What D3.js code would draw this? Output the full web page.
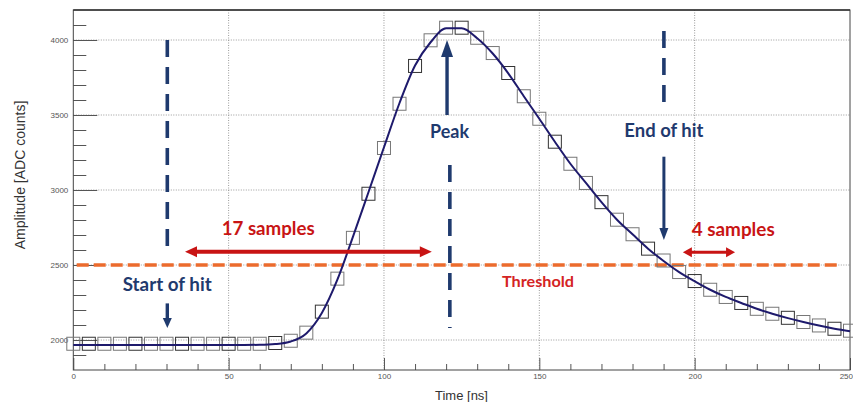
<!DOCTYPE html>
<html><head><meta charset="utf-8">
<script src="https://cdn.jsdelivr.net/npm/d3@7"></script>
<style>body{margin:0;background:#fff}svg{display:block}</style>
</head><body>
<svg id="c" width="853" height="402"></svg>
<script>
// ---- data ----
const times = [0,5,10,15,20,25,30,35,40,45,50,55,60,65,70,75,80,85,90,95,100,105,110,115,120,125,130,135,140,145,150,155,160,165,170,175,180,185,190,195,200,205,210,215,220,225,230,235,240,245,250];
const samples = [1975,1975,1975,1975,1975,1975,1975,1975,1975,1975,1975,1975,1975,1980,1995,2049,2189,2409,2681,2975,3280,3575,3827,3998,4082,4082,4015,3913,3780,3625,3475,3322,3175,3047,2919,2802,2705,2609,2530,2453,2393,2335,2287,2247,2208,2175,2148,2120,2097,2075,2062];
const fit = [1967,1967,1967,1967,1967,1967,1967,1967,1967,1967,1967,1967,1968,1973,1990,2044,2180,2402,2688,2985,3285,3580,3830,3985,4078,4078,4012,3910,3778,3625,3475,3322,3175,3047,2919,2802,2705,2609,2527,2453,2392,2335,2287,2247,2208,2175,2146,2120,2096,2075,2058];
const xMajor = [0,50,100,150,200,250];
const xMinor = [10,20,30,40,60,70,80,90,110,120,130,140,160,170,180,190,210,220,230,240];
const yMajor = [2000,2500,3000,3500,4000];
const yMinor = [1900,2100,2200,2300,2400,2600,2700,2800,2900,3100,3200,3300,3400,3600,3700,3800,3900,4100];
const threshold = 2500;
const xTitle = "Time [ns]";
const yTitle = "Amplitude [ADC counts]";

// annotations in data units
const startHit = {t:30.26, dash:[4000,2607], arrow:[2244,2080]};
const peakHit  = {t:121.2, dash:[3167,2080], arrow:[3500,4000]};
const endHit   = {t:190.1, dash:[4060,3547], arrow:[3222,2667]};
const span17 = {t:[35.95,115.4], v:2589};
const span4  = {t:[196.2,213.0], v:2585};

// ---- layout ----
const svg = d3.select("#c");
const L=73.3, R=850, T=10, B=370;
const x = d3.scaleLinear().domain([0,250]).range([L,R]);
const y = d3.scaleLinear().domain([1800,4200]).range([B,T]);

const navy="#1f3a6e", red="#c81414", orange="#ec6b2d", curveCol="#1e1a6c";

// grid
const grid = svg.append("g").attr("stroke","#9a9a9a").attr("stroke-width",1).attr("stroke-dasharray","1,1.5");
grid.selectAll(".gx").data(xMajor.filter(d=>d>0&&d<250)).join("line")
  .attr("x1",d=>x(d)).attr("x2",d=>x(d)).attr("y1",T).attr("y2",B);
grid.selectAll(".gy").data(yMajor).join("line")
  .attr("x1",L).attr("x2",R).attr("y1",d=>y(d)).attr("y2",d=>y(d));

// axes
const fontTick = "'Liberation Sans', Arial, sans-serif";
const yAx = svg.append("g").attr("transform",`translate(${L},0)`)
  .call(d3.axisLeft(y).tickValues(yMajor).tickSizeInner(-24).tickSizeOuter(0).tickPadding(5).tickFormat(d3.format("d")));
const yAxm = svg.append("g").attr("transform",`translate(${L},0)`)
  .call(d3.axisLeft(y).tickValues(yMinor).tickSizeInner(-13).tickSizeOuter(0).tickFormat(""));
const xAx = svg.append("g").attr("transform",`translate(0,${B})`)
  .call(d3.axisBottom(x).tickValues(xMajor).tickSizeInner(-12).tickSizeOuter(0).tickPadding(3).tickFormat(d3.format("d")));
const xAxm = svg.append("g").attr("transform",`translate(0,${B})`)
  .call(d3.axisBottom(x).tickValues(xMinor).tickSizeInner(-6).tickSizeOuter(0).tickFormat(""));
[yAx,yAxm,xAx,xAxm].forEach(g=>{
  g.select(".domain").remove();
  g.selectAll(".tick line").attr("stroke","#555");
  g.selectAll("text").attr("fill","#555").style("font-family",fontTick).style("font-size","8px");
});
// last x label sits at the window edge: keep it fully visible
xAx.selectAll(".tick text").filter(d=>d===250).attr("text-anchor","end").attr("x",2.5);

// frame
svg.append("rect").attr("x",L).attr("y",T).attr("width",R-L).attr("height",B-T)
  .attr("fill","none").attr("stroke","#444").attr("stroke-width",1);
svg.append("line").attr("x1",L).attr("x2",R).attr("y1",T).attr("y2",T).attr("stroke","#333").attr("stroke-width",1.5);

// threshold
svg.append("line").attr("x1",x(1.1)).attr("x2",x(246.3)).attr("y1",y(threshold)).attr("y2",y(threshold))
  .attr("stroke",orange).attr("stroke-width",3.5).attr("stroke-dasharray","12,5");

// markers
const pts = times.map((t,i)=>({t,v:samples[i]}));
svg.append("g").selectAll("rect").data(pts).join("rect")
  .attr("x",d=>x(d.t)-6.5).attr("y",d=>y(d.v)-6.5).attr("width",13).attr("height",13)
  .attr("fill","none").attr("stroke",(d,i)=>i%3===1?"#333":"#777").attr("stroke-width",1);

// fit curve
const fitPts = times.map((t,i)=>({t,v:fit[i]}));
svg.append("path").datum(fitPts)
  .attr("d",d3.line().x(d=>x(d.t)).y(d=>y(d.v)).curve(d3.curveMonotoneX))
  .attr("fill","none").attr("stroke",curveCol).attr("stroke-width",2);

// arrows
function head(g,x1,y1,x2,y2,col,hl,hw){
  const a=Math.atan2(y2-y1,x2-x1), c=Math.cos(a), s=Math.sin(a);
  const bx=x2-hl*c, by=y2-hl*s;
  g.append("polygon").attr("points",[[x2,y2],[bx-hw/2*s,by+hw/2*c],[bx+hw/2*s,by-hw/2*c]].map(p=>p.join(",")).join(" "))
    .attr("fill",col);
  return [bx+ c*1, by+ s*1];
}
function arrow(x1,y1,x2,y2,col,w,hl,hw,both){
  const g=svg.append("g");
  let e=head(g,x1,y1,x2,y2,col,hl,hw);
  let s=[x1,y1];
  if(both) s=head(g,x2,y2,x1,y1,col,hl,hw);
  g.append("line").attr("x1",s[0]).attr("y1",s[1]).attr("x2",e[0]).attr("y2",e[1])
    .attr("stroke",col).attr("stroke-width",w);
}
function dashV(t,v0,v1){
  svg.append("line").attr("x1",x(t)).attr("x2",x(t)).attr("y1",y(v0)).attr("y2",y(v1))
    .attr("stroke",navy).attr("stroke-width",3.6).attr("stroke-dasharray","17,10");
}
dashV(startHit.t,startHit.dash[0],startHit.dash[1]);
arrow(x(startHit.t),y(startHit.arrow[0]),x(startHit.t),y(startHit.arrow[1]),navy,3.4,10,9,false);
dashV(peakHit.t,peakHit.dash[0],peakHit.dash[1]);
arrow(x(peakHit.t-0.9),y(peakHit.arrow[0]),x(peakHit.t-0.9),y(peakHit.arrow[1]),navy,3.4,17,12,false);
dashV(endHit.t,endHit.dash[0],endHit.dash[1]);
arrow(x(endHit.t),y(endHit.arrow[0]),x(endHit.t),y(endHit.arrow[1]),navy,3,12,9,false);
arrow(x(span17.t[0]),y(span17.v),x(span17.t[1]),y(span17.v),red,4,12,11,true);
arrow(x(span4.t[0]),y(span4.v),x(span4.t[1]),y(span4.v),red,3,9,10,true);

// annotation texts
const fAnn="Lato, 'Open Sans', sans-serif";
function label(txt,xx,yy,col,size,len){
  svg.append("text").attr("x",xx).attr("y",yy).text(txt).attr("fill",col)
    .style("font-family",fAnn).style("font-weight",700).style("font-size",size+"px")
    .attr("textLength",len).attr("lengthAdjust","spacingAndGlyphs");
}
label("17 samples",221.7,235,red,18,93);
label("4 samples",691.7,235.5,red,18,83);
label("Start of hit",122.7,290.7,navy,18,89);
label("Peak",430,138.3,navy,18,39);
label("End of hit",624.3,136.7,navy,18,79);
label("Threshold",502,287.3,"#d42424",15,72);

// axis titles
svg.append("text").attr("x",435).attr("y",399.5).text(xTitle)
  .attr("fill","#333").style("font-family",fontTick).style("font-size","13px");
svg.append("text").attr("transform","translate(25,175) rotate(-90)").attr("text-anchor","middle").text(yTitle)
  .attr("fill","#333").style("font-family",fontTick).style("font-size","14px");
</script>
</body></html>
